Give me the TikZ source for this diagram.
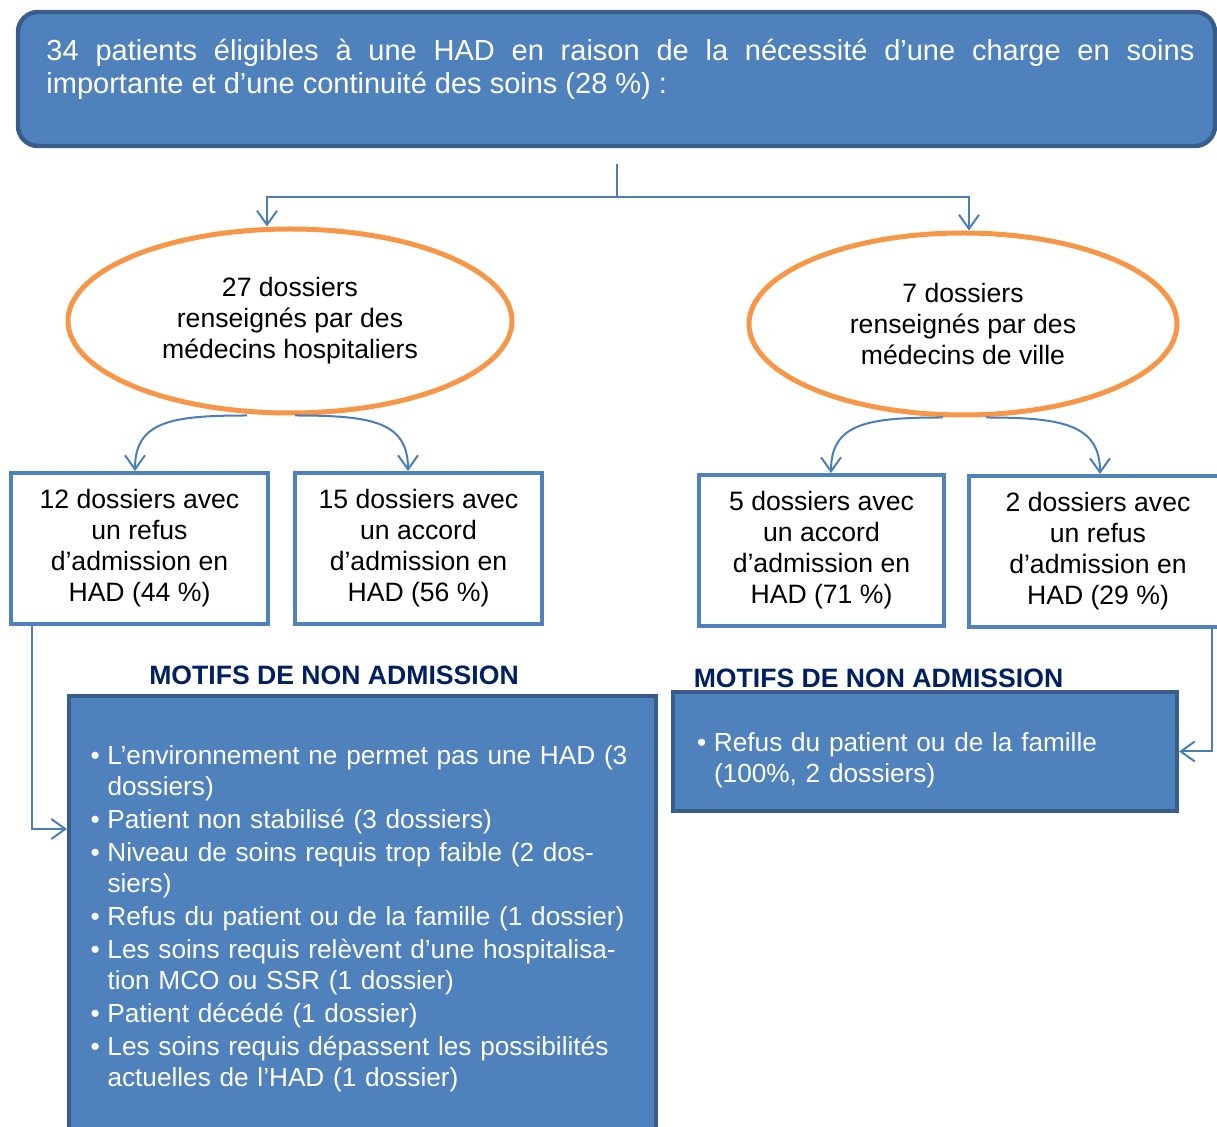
\documentclass[tikz,border=0pt]{standalone}
\usepackage{fontspec}
\setmainfont{Liberation Sans}
\usetikzlibrary{arrows.meta,positioning,calc,shapes.geometric}
\definecolor{FillBlue}{HTML}{4F81BD}
\definecolor{EdgeBlue}{HTML}{385D8A}
\definecolor{LineBlue}{HTML}{4A7EBB}
\definecolor{OvalOrange}{HTML}{F79646}
\definecolor{NavyTitle}{HTML}{002060}
\newcommand{\puce}{\makebox[8.5pt][l]{\textbullet}}
\newcommand{\suite}{\hspace*{8.5pt}}

\begin{document}
\begin{tikzpicture}[x=0.5pt,y=-0.5pt,
    every node/.style={font=\fontsize{13.3}{15.5}\selectfont},
    topbox/.style={draw=EdgeBlue,fill=FillBlue,line width=2.2pt,rounded corners=10pt,text=white,minimum width=598.5pt,minimum height=67pt,text width=578pt,align=justify,inner sep=0pt,font=\fontsize{14.5}{16.5}\selectfont},
    oval/.style={ellipse,draw=OvalOrange,line width=2.5pt,fill=white,align=center,inner sep=0pt},
    resbox/.style={draw=FillBlue,line width=2pt,fill=white,minimum height=75.5pt,align=center,inner sep=0pt},
    listbox/.style={draw=EdgeBlue,fill=FillBlue,line width=2pt,text=white,align=left,font=\fontsize{13.1}{15.5}\selectfont},
    title/.style={text=NavyTitle,font=\bfseries\fontsize{13.3}{15.5}\selectfont},
    conn/.style={LineBlue,line width=1pt},
    arr/.style={conn,-{Straight Barb[length=7pt,width=10pt]}}
  ]
    \useasboundingbox (0,0) rectangle (1217,1127);

    \node[topbox] (haut) at (616.5,79) {\hspace*{4pt}34 patients éligibles à une HAD en raison de la nécessité d’une charge en soins\linebreak \hspace*{4pt}importante et d’une continuité des soins (28~\%)~:\\[-4pt]\mbox{}};

    \node[oval,minimum width=222pt,minimum height=92pt] (ellG) at (290,321) {27 dossiers\\renseignés par des\\médecins hospitaliers};
    \node[oval,minimum width=214pt,minimum height=91pt] (ellD) at (963,324) {7 dossiers\\renseignés par des\\médecins de ville};

    \node[resbox,minimum width=128.5pt] (refusG) at (139.5,548.5) {12 dossiers avec\\un refus\\d’admission en\\HAD (44~\%)};
    \node[resbox,minimum width=123.5pt] (accordG) at (418.5,548.5) {15 dossiers avec\\un accord\\d’admission en\\HAD (56~\%)};
    \node[resbox,minimum width=122.5pt] (accordD) at (821.5,550.5) {5 dossiers avec\\un accord\\d’admission en\\HAD (71~\%)};
    \node[resbox,minimum width=129pt] (refusD) at (1098,551.5) {2 dossiers avec\\un refus\\d’admission en\\HAD (29~\%)};

    \node[title] (motifsG) at (334,675) {MOTIFS DE NON ADMISSION};
    \node[title] (motifsD) at (878.5,678) {MOTIFS DE NON ADMISSION};

    \node[listbox,anchor=north,minimum width=293.5pt,text width=272pt,inner ysep=25pt] (listeG) at (362.5,694) {%
      \mbox{\puce L’environnement ne permet pas une HAD (3}\\
      \suite dossiers)\\[1pt]
      \puce Patient non stabilisé (3 dossiers)\\[1pt]
      \puce Niveau de soins requis trop faible (2 dos-\\
      \suite siers)\\[1pt]
      \puce Refus du patient ou de la famille (1 dossier)\\[1pt]
      \puce Les soins requis relèvent d’une hospitalisa-\\
      \suite tion MCO ou SSR (1 dossier)\\[1pt]
      \puce Patient décédé (1 dossier)\\[1pt]
      \puce Les soins requis dépassent les possibilités\\
      \suite actuelles de l’HAD (1 dossier)};
    \node[listbox,minimum width=252pt,minimum height=59.5pt,text width=228pt,inner sep=0pt] (listeD) at (925,751.5) {%
      \rule{0pt}{18pt}\puce Refus du patient ou de la famille\\
      \suite (100\%, 2 dossiers)};

    % arborescence
    \coordinate (fourche) at ([yshift=-24.5pt]haut.south);
    \draw[conn] ([yshift=-8pt]haut.south) -- (fourche);
    \draw[arr] (fourche) -| ($(ellG.north)+(-23,0)$);
    \draw[arr] (fourche) -| ($(ellD.north)+(6,0)$);

    \draw[arr] ($(ellG.south)+(-43,0)$) .. controls +(-75,0) and +(0,-50) .. ($(refusG.north)+(-4.5,0)$);
    \draw[arr] ($(ellG.south)+(5,0)$) .. controls +(75,0) and +(0,-50) .. ($(accordG.north)+(-10.5,0)$);
    \draw[arr] ($(ellD.south)+(-20,0)$) .. controls +(-75,0) and +(0,-50) .. ($(accordD.north)+(9.5,0)$);
    \draw[arr] ($(ellD.south)+(23,0)$) .. controls +(75,0) and +(0,-50) .. ($(refusD.north)+(2,0)$);

    \draw[arr] (refusG.south -| 32,0) |- (listeG.west |- 0,829);
    \draw[arr] (refusD.south -| 1212,0) |- (listeD.east);
  \end{tikzpicture}
\end{document}
